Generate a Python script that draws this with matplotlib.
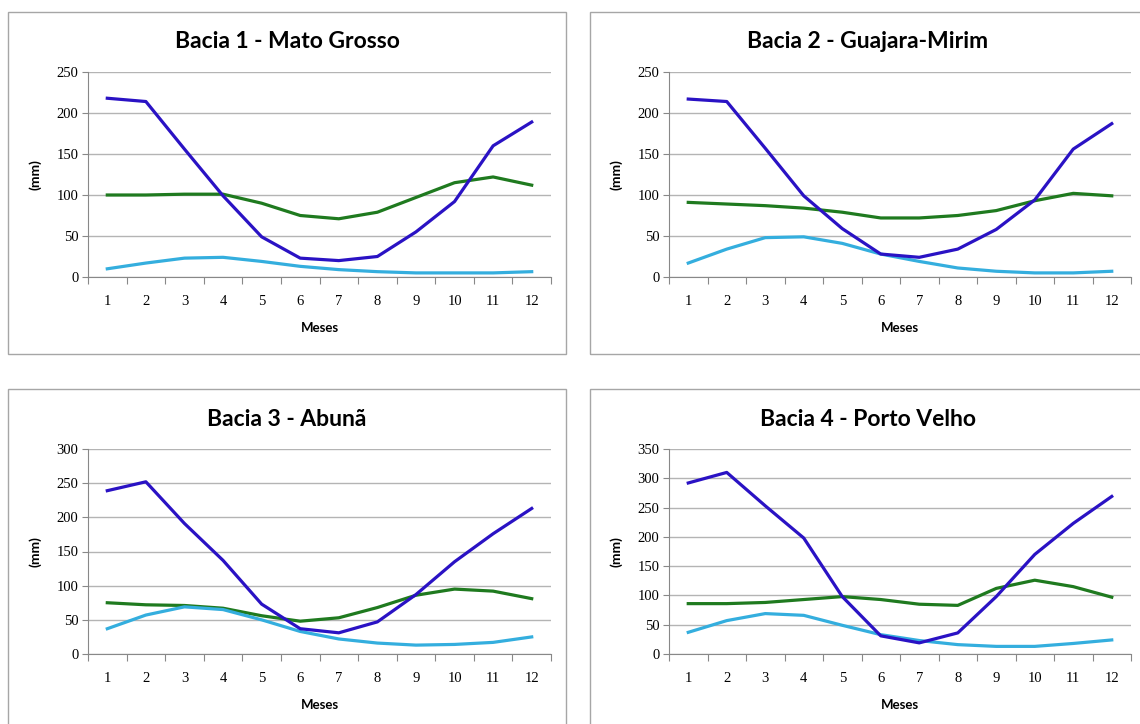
import matplotlib
matplotlib.use("Agg")
import matplotlib.pyplot as plt
from matplotlib.patches import Rectangle

meses = list(range(1, 13))

titulos = ["Bacia 1 - Mato Grosso", "Bacia 2 - Guajara-Mirim",
           "Bacia 3 - Abunã", "Bacia 4 - Porto Velho"]
ymax = [250, 250, 300, 350]

# serie azul escuro
azul = [
    [218, 214, 156, 99, 49, 23, 20, 25, 55, 92, 160, 189],
    [217, 214, 157, 99, 59, 28, 24, 34, 58, 94, 156, 187],
    [239, 252, 191, 137, 73, 37, 31, 47, 87, 135, 176, 213],
    [292, 310, 253, 198, 98, 31, 19, 36, 98, 170, 223, 269],
]
# serie verde
verde = [
    [100, 100, 101, 101, 90, 75, 71, 79, 97, 115, 122, 112],
    [91, 89, 87, 84, 79, 72, 72, 75, 81, 93, 102, 99],
    [75, 72, 71, 67, 56, 48, 53, 68, 86, 95, 92, 81],
    [86, 86, 88, 93, 98, 93, 85, 83, 112, 126, 115, 97],
]
# serie azul claro
ciano = [
    [10, 17, 23, 24, 19, 13, 9, 6.5, 5, 5, 5, 6.5],
    [17, 34, 48, 49, 41, 28, 19, 11, 7, 5, 5, 7],
    [37, 57, 69, 65, 50, 33, 22, 16, 13, 14, 17, 25],
    [37, 57, 69, 66, 49, 33, 23, 16, 13, 13, 18, 24],
]

W, H = 1140, 724
fig = plt.figure(figsize=(W / 100, H / 100), dpi=100)

# posicoes em pixels: (x0 eixo, x1 eixo, y topo, y base, moldura x0, x1, y0, y1)
paineis = [
    (88, 551, 72, 277, 8, 566, 12, 354),
    (669, 1131, 72, 277, 590, 1146, 12, 354),
    (88, 551, 449, 654, 8, 566, 389, 730),
    (669, 1131, 449, 654, 590, 1146, 389, 730),
]

serif = ["Liberation Serif", "DejaVu Serif"]
sans = ["Lato", "DejaVu Sans"]

for i, (x0, x1, yt, yb, fx0, fx1, fy0, fy1) in enumerate(paineis):
    fig.patches.append(Rectangle((fx0 / W, 1 - fy1 / H), (fx1 - fx0) / W, (fy1 - fy0) / H,
                                 transform=fig.transFigure, fill=False,
                                 edgecolor="#a6a6a6", linewidth=1.0))
    ax = fig.add_axes([x0 / W, 1 - yb / H, (x1 - x0) / W, (yb - yt) / H])
    ax.plot(meses, verde[i], color="#1f7a1f", lw=2.3, zorder=3)
    ax.plot(meses, ciano[i], color="#34aede", lw=2.3, zorder=3)
    ax.plot(meses, azul[i], color="#2a12c4", lw=2.3, zorder=4)

    ax.set_xlim(0.5, 12.5)
    ax.set_ylim(0, ymax[i])
    ax.set_yticks(range(0, ymax[i] + 1, 50))
    ax.set_xticks(meses)
    ax.set_xticks([m + 0.5 for m in range(0, 13)], minor=True)
    ax.tick_params(axis="x", which="major", length=0, pad=13, labelsize=10.5)
    ax.tick_params(axis="x", which="minor", length=5, color="#888888", width=0.8)
    ax.tick_params(axis="y", length=4, color="#888888", width=0.8, labelsize=10.5, pad=3)
    for lab in ax.get_xticklabels() + ax.get_yticklabels():
        lab.set_family(serif)
    ax.grid(axis="y", color="#b4b4b4", lw=1.0, zorder=0)
    for s in ["top", "right"]:
        ax.spines[s].set_visible(False)
    for s in ["left", "bottom"]:
        ax.spines[s].set_color("#888888")
        ax.spines[s].set_linewidth(0.8)

    fig.text((fx0 + fx1) / 2 / W, 1 - (yt - 30) / H, titulos[i], ha="center", va="center",
             fontsize=16.5, fontweight="bold", family=sans)
    fig.text((x0 + x1) / 2 / W, 1 - (yb + 51) / H, "Meses", ha="center", va="center",
             fontsize=9.5, fontweight="bold", family=sans)
    fig.text((x0 - 53) / W, 1 - (yt + yb) / 2 / H, "(mm)", ha="center", va="center",
             rotation=90, fontsize=10, fontweight="bold", family=sans)

fig.savefig("out.png", dpi=100, facecolor="white")
